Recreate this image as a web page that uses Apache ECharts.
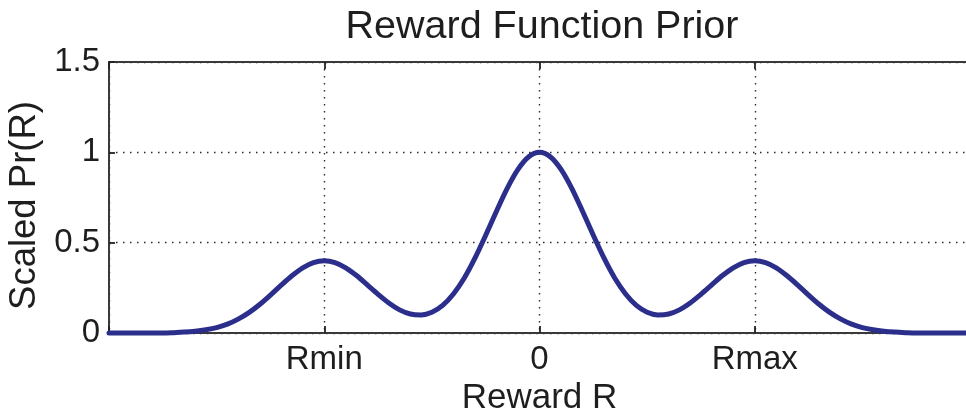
<!DOCTYPE html>
<html>
<head>
<meta charset="utf-8">
<title>Reward Function Prior</title>
<script src="https://cdn.jsdelivr.net/npm/echarts@6/dist/echarts.min.js"></script>
<style>
  html, body { margin: 0; padding: 0; background: #ffffff; overflow: hidden; }
  #chart { width: 966px; height: 412px; }
</style>
</head>
<body>
<div id="chart"></div>
<script>
// Reward values (units of Rmax) and the scaled prior probability at each one
const rewardR = [
  -2.00, -1.95, -1.90, -1.85, -1.80, -1.75, -1.70, -1.65, -1.60, -1.55,
  -1.50, -1.45, -1.40, -1.35, -1.30, -1.25, -1.20, -1.15, -1.10, -1.05,
  -1.00, -0.95, -0.90, -0.85, -0.80, -0.75, -0.70, -0.65, -0.60, -0.55,
  -0.50, -0.45, -0.40, -0.35, -0.30, -0.25, -0.20, -0.15, -0.10, -0.05,
   0.00,
   0.05,  0.10,  0.15,  0.20,  0.25,  0.30,  0.35,  0.40,  0.45,  0.50,
   0.55,  0.60,  0.65,  0.70,  0.75,  0.80,  0.85,  0.90,  0.95,  1.00,
   1.05,  1.10,  1.15,  1.20,  1.25,  1.30,  1.35,  1.40,  1.45,  1.50,
   1.55,  1.60,  1.65,  1.70,  1.75,  1.80,  1.85,  1.90,  1.95,  2.00
];
const scaledPr = [
  0.000, 0.000, 0.000, 0.000, 0.000, 0.000, 0.002, 0.005, 0.010, 0.018,
  0.030, 0.049, 0.077, 0.113, 0.158, 0.210, 0.265, 0.317, 0.361, 0.390,
  0.400, 0.390, 0.361, 0.318, 0.266, 0.214, 0.166, 0.128, 0.105, 0.100,
  0.115, 0.153, 0.216, 0.303, 0.414, 0.541, 0.674, 0.801, 0.906, 0.976,
  1.000,
  0.976, 0.906, 0.801, 0.674, 0.541, 0.414, 0.303, 0.216, 0.153, 0.115,
  0.100, 0.105, 0.128, 0.166, 0.214, 0.266, 0.318, 0.361, 0.390, 0.400,
  0.390, 0.361, 0.317, 0.265, 0.210, 0.158, 0.113, 0.077, 0.049, 0.030,
  0.018, 0.010, 0.005, 0.002, 0.000, 0.000, 0.000, 0.000, 0.000, 0.000
];

// Named reward ticks on the x axis
const xTickValues = [-1, 0, 1];
const xTickLabels = ['Rmin', '0', 'Rmax'];

const FONT = '"Liberation Sans", Arial, Helvetica, sans-serif';
const TEXT = '#1e1e1e';
const AXIS = '#3a3a3a';

// The plot box runs a few pixels past the right edge of the canvas
const grid = { left: 109, top: 62, width: 861, height: 271, outerBoundsMode: 'none', containLabel: false };

const dottedGrid = {
  show: true,
  lineStyle: { color: '#2a2a2a', width: 1.4, type: [1.5, 5.5] }
};

function xLabel(v) {
  const i = xTickValues.indexOf(Math.round(v * 1000) / 1000);
  return i >= 0 ? xTickLabels[i] : '';
}

const chart = echarts.init(document.getElementById('chart'), null, { renderer: 'canvas' });

chart.setOption({
  animation: false,
  backgroundColor: '#ffffff',
  title: {
    text: 'Reward Function Prior',
    left: 537,
    top: 2,
    textAlign: 'center',
    textStyle: { fontFamily: FONT, fontSize: 39.5, fontWeight: 'normal', color: TEXT }
  },
  grid: grid,
  xAxis: [
    {
      type: 'value',
      min: -2,
      max: 2,
      interval: 1,
      position: 'bottom',
      name: 'Reward R',
      nameLocation: 'middle',
      nameGap: 41,
      nameTextStyle: { fontFamily: FONT, fontSize: 35, color: TEXT },
      axisLine: { show: true, onZero: false, lineStyle: { color: AXIS, width: 2 } },
      axisTick: { show: true, inside: true, length: 7, lineStyle: { color: '#222', width: 1.8 } },
      axisLabel: {
        show: true, margin: 10, formatter: xLabel,
        fontFamily: FONT, fontSize: 33, color: TEXT
      },
      splitLine: dottedGrid
    },
    {
      type: 'value',
      min: -2,
      max: 2,
      interval: 1,
      position: 'top',
      axisLine: { show: true, onZero: false, lineStyle: { color: AXIS, width: 2 } },
      axisTick: { show: true, inside: true, length: 7, lineStyle: { color: '#222', width: 1.8 } },
      axisLabel: { show: false },
      splitLine: { show: false }
    }
  ],
  yAxis: {
    type: 'value',
    min: 0,
    max: 1.5,
    interval: 0.5,
    name: 'Scaled Pr(R)',
    nameLocation: 'middle',
    nameGap: 62,
    nameTextStyle: { fontFamily: FONT, fontSize: 36.5, color: TEXT, padding: [0, 16, 0, 0] },
    axisLine: { show: true, onZero: false, lineStyle: { color: AXIS, width: 2 } },
    axisTick: { show: true, inside: true, length: 6, lineStyle: { color: '#222', width: 1.8 } },
    axisLabel: { margin: 9, fontFamily: FONT, fontSize: 33, color: TEXT },
    splitLine: dottedGrid
  },
  series: [
    {
      type: 'line',
      xAxisIndex: 0,
      data: rewardR.map((r, i) => [r, scaledPr[i]]),
      smooth: 0.3,
      showSymbol: false,
      clip: false,
      lineStyle: { color: '#2b2e8a', width: 5, cap: 'round', join: 'round' },
      z: 5
    }
  ]
});
</script>
</body>
</html>
